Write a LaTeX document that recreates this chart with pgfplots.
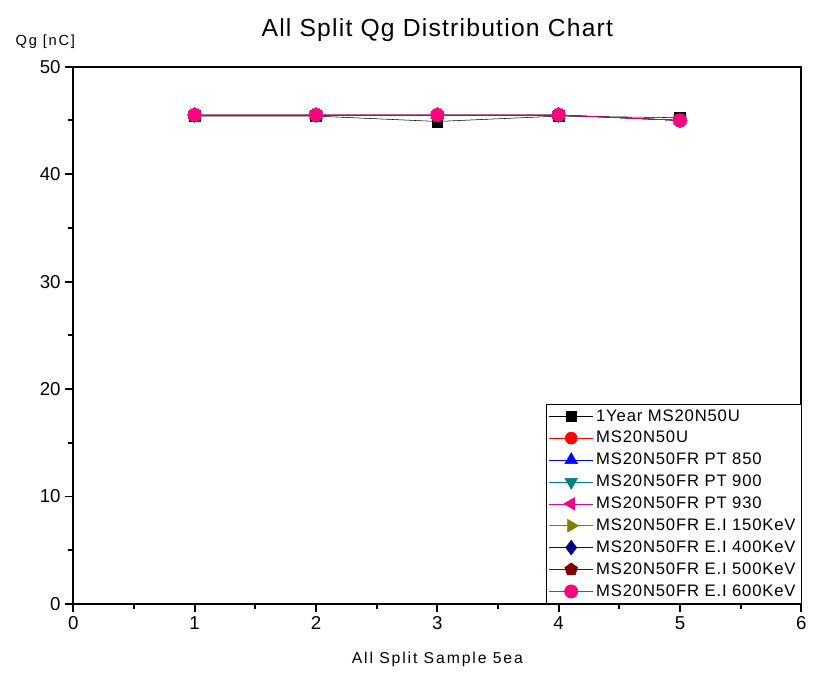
\documentclass[border=0pt]{standalone}
\usepackage{fontspec}
\setmainfont{Liberation Sans}
\newfontfamily\widefont[LetterSpace=12]{Liberation Sans}
\newfontfamily\midfont[LetterSpace=5]{Liberation Sans}
\usepackage{pgfplots}
\pgfplotsset{compat=1.18}
\usetikzlibrary{plotmarks}
\definecolor{qteal}{HTML}{008080}
\definecolor{qolive}{HTML}{808000}
\definecolor{qnavy}{HTML}{000080}
\definecolor{qmaroon}{HTML}{800000}
\definecolor{qpink}{HTML}{FF0080}

\begin{document}
\begin{tikzpicture}
% page frame to keep the reference proportions (816x678 px at 0.75pt/px)
\path[use as bounding box] (-55pt,-55.5pt) rectangle (557pt,453pt);
\begin{axis}[
  scale only axis,
  width=546pt, height=403pt,
  at={(0pt,0pt)}, anchor=south west,
  xmin=0, xmax=6, ymin=0, ymax=50,
  xtick={0,1,...,6}, ytick={0,10,...,50},
  minor x tick num=1, minor y tick num=1,
  xtick pos=bottom, ytick pos=left,
  tick align=outside,
  major tick length=6pt, minor tick length=4pt,
  axis line style={line width=1.4pt},
  every tick/.style={black, line width=1.4pt},
  /pgf/number format/assume math mode=true,
  tick label style={font=\fontsize{14}{16}\selectfont},
  title={All Split Qg Distribution Chart},
  title style={font=\midfont\fontsize{18.5}{21}\selectfont, at={(0.5,1)}, anchor=south, yshift=9pt},
  xlabel={All Split Sample 5ea},
  xlabel style={font=\widefont\fontsize{11.8}{13}\selectfont, yshift=-10pt},
  ylabel={Qg [nC]},
  ylabel style={font=\widefont\fontsize{11}{13}\selectfont, rotate=-90, at={(0,1)}, anchor=south, xshift=-21pt, yshift=10pt},
  legend style={font=\midfont\fontsize{12.5}{14}\selectfont, at={(1,0)}, anchor=south east,
    draw=black, line width=0.6pt, row sep=2.2pt, inner sep=2pt,
    /tikz/every even column/.append style={column sep=2pt}},
  legend cell align=left,
  legend image code/.code={
    \draw[mark repeat=2, mark phase=2, #1] plot coordinates {(0cm,0cm) (0.58cm,0cm) (1.16cm,0cm)};},
]
\addplot[black, thin, mark=square*, mark size=4pt] coordinates {(1,45.4) (2,45.4) (3,44.9) (4,45.4) (5,45.25)};
\addlegendentry{1Year MS20N50U}
\addplot[red, thin, mark=*, mark size=4.5pt] coordinates {(1,45.5) (2,45.5) (3,45.5) (4,45.5) (5,45.0)};
\addlegendentry{MS20N50U}
\addplot[blue, thin, mark=triangle*, mark size=5.5pt] coordinates {(1,45.5) (2,45.5) (3,45.5) (4,45.5) (5,45.0)};
\addlegendentry{MS20N50FR PT 850}
\addplot[qteal, thin, mark=triangle*, mark size=5.5pt, mark options={rotate=180}] coordinates {(1,45.5) (2,45.5) (3,45.5) (4,45.5) (5,45.0)};
\addlegendentry{MS20N50FR PT 900}
\addplot[magenta, thin, mark=triangle*, mark size=5.5pt, mark options={rotate=90}] coordinates {(1,45.5) (2,45.5) (3,45.5) (4,45.5) (5,45.0)};
\addlegendentry{MS20N50FR PT 930}
\addplot[qolive, thin, mark=triangle*, mark size=5.5pt, mark options={rotate=-90}] coordinates {(1,45.5) (2,45.5) (3,45.5) (4,45.5) (5,45.0)};
\addlegendentry{MS20N50FR E.I 150KeV}
\addplot[qnavy, thin, mark=diamond*, mark size=5.5pt] coordinates {(1,45.5) (2,45.5) (3,45.5) (4,45.5) (5,45.0)};
\addlegendentry{MS20N50FR E.I 400KeV}
\addplot[qmaroon, thin, mark=pentagon*, mark size=5pt] coordinates {(1,45.5) (2,45.5) (3,45.5) (4,45.5) (5,45.0)};
\addlegendentry{MS20N50FR E.I 500KeV}
\addplot[qpink, thin, mark=*, mark size=5pt] coordinates {(1,45.5) (2,45.5) (3,45.5) (4,45.5) (5,45.0)};
\addlegendentry{MS20N50FR E.I 600KeV}
\end{axis}
\end{tikzpicture}
\end{document}
